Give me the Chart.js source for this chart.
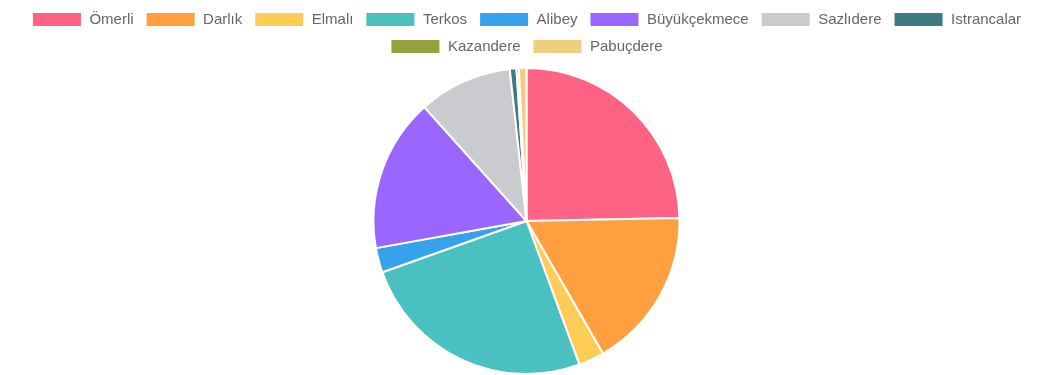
<!DOCTYPE html>
<html>
<head>
<meta charset="utf-8">
<script src="https://cdn.jsdelivr.net/npm/chart.js@4"></script>
<style>
  html, body { margin: 0; padding: 0; background: #fff; }
  #wrap { width: 1053px; height: 375px; position: relative; }
</style>
</head>
<body>
<div id="wrap"><canvas id="c"></canvas></div>
<script>
const categories = ['Ömerli', 'Darlık', 'Elmalı', 'Terkos', 'Alibey', 'Büyükçekmece', 'Sazlıdere', 'Istrancalar', 'Kazandere', 'Pabuçdere'];
const values = [24.7, 17.0, 2.7, 25.2, 2.6, 16.2, 9.9, 0.7, 0.25, 0.8];
const colors = ['rgb(255,99,132)', 'rgb(255,159,64)', 'rgb(255,205,86)', 'rgb(75,192,192)', 'rgb(54,162,235)', 'rgb(153,102,255)', 'rgb(201,203,207)', 'rgb(61,123,128)', 'rgb(150,160,60)', 'rgb(238,207,128)'];

const legendGap = {
  id: 'legendGap',
  beforeInit(chart) {
    const origFit = chart.legend.fit;
    chart.legend.fit = function () {
      origFit.call(this);
      this.height += 3;
    };
  }
};

new Chart(document.getElementById('c'), {
  type: 'pie',
  data: {
    labels: categories,
    datasets: [{
      data: values,
      backgroundColor: colors,
      borderColor: '#fff',
      borderWidth: 2
    }]
  },
  plugins: [legendGap],
  options: {
    responsive: true,
    maintainAspectRatio: false,
    animation: false,
    plugins: {
      legend: {
        position: 'top',
        labels: {
          boxWidth: 50,
          boxHeight: 15,
          padding: 12,
          color: '#666',
          font: { size: 15, family: "'Helvetica Neue', Helvetica, Arial, sans-serif" }
        }
      },
      tooltip: { enabled: false }
    }
  }
});
</script>
</body>
</html>
